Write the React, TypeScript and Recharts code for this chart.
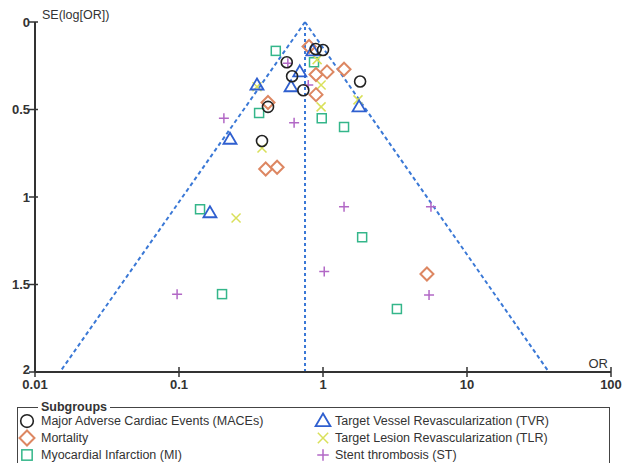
import { ReferenceLine, Scatter, ScatterChart, XAxis, YAxis } from 'recharts'

// odds ratio / standard error of log(OR), one pair per study
const macesOR = [0.89, 1.0, 0.56, 0.61, 0.73, 0.415, 0.377, 1.81]
const macesSE = [0.154, 0.16, 0.23, 0.31, 0.39, 0.485, 0.68, 0.34]

const mortalityOR = [0.8, 0.894, 1.066, 1.4, 0.894, 0.415, 0.4, 0.48, 5.27]
const mortalitySE = [0.14, 0.3, 0.285, 0.27, 0.415, 0.46, 0.84, 0.83, 1.44]

const miOR = [0.47, 0.866, 0.36, 0.98, 1.4, 0.14, 0.199, 1.87, 3.26]
const miSE = [0.165, 0.23, 0.52, 0.55, 0.6, 1.07, 1.555, 1.23, 1.64]

const tvrOR = [0.85, 0.69, 0.6, 0.348, 0.226, 1.78, 0.164]
const tvrSE = [0.165, 0.285, 0.37, 0.36, 0.67, 0.485, 1.09]

const tlrOR = [0.91, 0.97, 0.97, 1.75, 0.348, 0.377, 0.249]
const tlrSE = [0.215, 0.36, 0.485, 0.445, 0.37, 0.72, 1.12]

const stOR = [0.79, 0.57, 0.205, 0.63, 1.4, 5.62, 1.02, 5.45, 0.097]
const stSE = [0.36, 0.235, 0.55, 0.575, 1.055, 1.055, 1.425, 1.56, 1.555]

const xTicks = [0.01, 0.1, 1, 10, 100]
const yTicks = [0, 0.5, 1, 1.5, 2]

// pooled OR and where the 95% funnel limits hit SE = 2
const pooledOR = 0.75
const funnelLeftOR = 0.0149
const funnelRightOR = 37

type Kind = 'circle' | 'diamond' | 'square' | 'triangle' | 'cross' | 'plus'

const colors: Record<Kind, string> = {
  circle: '#222222',
  diamond: '#dd8762',
  square: '#34b68a',
  triangle: '#2f5fcf',
  cross: '#d9e05a',
  plus: '#b268c6',
}

const toPoints = (or: number[], se: number[]) => or.map((v, i) => ({ or: v, se: se[i] }))

const Marker = ({ kind, cx, cy, s = 1 }: { kind: Kind; cx: number; cy: number; s?: number }) => {
  const c = colors[kind]
  switch (kind) {
    case 'circle':
      return <circle cx={cx} cy={cy} r={5.5 * s} fill="none" stroke={c} strokeWidth={1.6} />
    case 'diamond': {
      const d = 6.5 * s
      return (
        <polygon
          points={`${cx},${cy - d} ${cx + d},${cy} ${cx},${cy + d} ${cx - d},${cy}`}
          fill="none"
          stroke={c}
          strokeWidth={2}
        />
      )
    }
    case 'square': {
      const h = 4.5 * s
      return <rect x={cx - h} y={cy - h} width={2 * h} height={2 * h} fill="none" stroke={c} strokeWidth={1.5} />
    }
    case 'triangle': {
      const w = 6.5 * s
      return (
        <polygon
          points={`${cx},${cy - 6.5 * s} ${cx + w},${cy + 4.5 * s} ${cx - w},${cy + 4.5 * s}`}
          fill="none"
          stroke={c}
          strokeWidth={1.8}
        />
      )
    }
    case 'cross': {
      const a = 4.5 * s
      return (
        <path d={`M${cx - a},${cy - a}L${cx + a},${cy + a}M${cx - a},${cy + a}L${cx + a},${cy - a}`} stroke={c} strokeWidth={1.5} />
      )
    }
    default: {
      const a = 5 * s
      return <path d={`M${cx - a},${cy}L${cx + a},${cy}M${cx},${cy - a}L${cx},${cy + a}`} stroke={c} strokeWidth={1.5} />
    }
  }
}

const shapeOf = (kind: Kind) => (p: any) => <Marker kind={kind} cx={p.cx} cy={p.cy} />

const font = '"Liberation Sans", Arial, sans-serif'

const YTick = ({ x, y, payload }: any) => (
  <g>
    <line x1={x - 6} x2={x + 3} y1={y} y2={y} stroke="#333" strokeWidth={1.5} />
    <text
      x={x - 5}
      y={y + (payload.value === 2 ? 2 : 4.5)}
      textAnchor="end"
      fontSize={13}
      fontWeight="bold"
      fill="#333"
      fontFamily={font}
    >
      {payload.value}
    </text>
  </g>
)

const XTick = ({ x, y, payload }: any) => (
  <g>
    <line x1={x} x2={x} y1={y - 5} y2={y + 5} stroke="#333" strokeWidth={1.5} />
    <text x={x} y={y + 17} textAnchor="middle" fontSize={13} fontWeight="bold" fill="#333" fontFamily={font}>
      {payload.value}
    </text>
  </g>
)

const legendItems: Array<{ kind: Kind; label: string; col: number; row: number }> = [
  { kind: 'circle', label: 'Major Adverse Cardiac Events (MACEs)', col: 0, row: 0 },
  { kind: 'diamond', label: 'Mortality', col: 0, row: 1 },
  { kind: 'square', label: 'Myocardial Infarction (MI)', col: 0, row: 2 },
  { kind: 'triangle', label: 'Target Vessel Revascularization (TVR)', col: 1, row: 0 },
  { kind: 'cross', label: 'Target Lesion Revascularization (TLR)', col: 1, row: 1 },
  { kind: 'plus', label: 'Stent thrombosis (ST)', col: 1, row: 2 },
]

const funnelLine = { stroke: '#3a78d6', strokeWidth: 2, strokeDasharray: '4 3' }

export default function App() {
  return (
    <div
      style={{
        position: 'absolute',
        left: 0,
        top: 0,
        width: 633,
        height: 463,
        overflow: 'hidden',
        background: '#fff',
        fontFamily: font,
      }}
    >
      <ScatterChart width={633} height={400} margin={{ top: 22, right: 22, bottom: 6, left: 5 }}>
        <XAxis
          type="number"
          dataKey="or"
          scale="log"
          domain={[0.01, 100]}
          ticks={xTicks}
          interval={0}
          height={22}
          tickSize={0}
          tickMargin={0}
          tickLine={false}
          tick={<XTick />}
          axisLine={{ stroke: '#333', strokeWidth: 2 }}
          label={{
            content: ({ viewBox }: any) => (
              <text x={viewBox.x + viewBox.width - 3} y={viewBox.y - 4} textAnchor="end" fontSize={13} fill="#333" fontFamily={font}>
                OR
              </text>
            ),
          }}
          allowDataOverflow
        />
        <YAxis
          type="number"
          dataKey="se"
          domain={[0, 2]}
          reversed
          ticks={yTicks}
          interval={0}
          width={30}
          tickSize={0}
          tickMargin={0}
          tickLine={false}
          tick={<YTick />}
          axisLine={{ stroke: '#333', strokeWidth: 2 }}
          label={{
            content: ({ viewBox }: any) => (
              <text x={viewBox.x + viewBox.width + 7} y={viewBox.y - 3} fontSize={12.5} fill="#333" fontFamily={font}>
                SE(log[OR])
              </text>
            ),
          }}
        />
        <ReferenceLine
          segment={[
            { x: pooledOR, y: 0 },
            { x: funnelLeftOR, y: 2 },
          ]}
          {...funnelLine}
        />
        <ReferenceLine
          segment={[
            { x: pooledOR, y: 0 },
            { x: funnelRightOR, y: 2 },
          ]}
          {...funnelLine}
        />
        <ReferenceLine x={pooledOR} stroke="#3a78d6" strokeWidth={2} strokeDasharray="3 3" />
        <Scatter data={toPoints(miOR, miSE)} shape={shapeOf('square')} isAnimationActive={false} />
        <Scatter data={toPoints(tlrOR, tlrSE)} shape={shapeOf('cross')} isAnimationActive={false} />
        <Scatter data={toPoints(stOR, stSE)} shape={shapeOf('plus')} isAnimationActive={false} />
        <Scatter data={toPoints(mortalityOR, mortalitySE)} shape={shapeOf('diamond')} isAnimationActive={false} />
        <Scatter data={toPoints(tvrOR, tvrSE)} shape={shapeOf('triangle')} isAnimationActive={false} />
        <Scatter data={toPoints(macesOR, macesSE)} shape={shapeOf('circle')} isAnimationActive={false} />
      </ScatterChart>

      <div
        style={{
          position: 'absolute',
          left: 17,
          top: 407,
          width: 591,
          height: 70,
          border: '1.5px solid #444',
        }}
      />
      <span
        style={{
          position: 'absolute',
          left: 38,
          top: 399,
          padding: '0 3px',
          background: '#fff',
          fontSize: 12.5,
          fontWeight: 'bold',
          lineHeight: '16px',
          color: '#333',
        }}
      >
        Subgroups
      </span>
      {legendItems.map((it) => {
        const mx = it.col === 0 ? 27 : 323
        const tx = it.col === 0 ? 41 : 335
        const cy = 421 + it.row * 17
        return (
          <div key={it.label}>
            <svg style={{ position: 'absolute', left: mx - 9, top: cy - 9 }} width={18} height={18}>
              <Marker kind={it.kind} cx={9} cy={9} s={1.15} />
            </svg>
            <span
              style={{
                position: 'absolute',
                left: tx,
                top: cy - 8,
                fontSize: 12.5,
                lineHeight: '16px',
                color: '#333',
                whiteSpace: 'nowrap',
              }}
            >
              {it.label}
            </span>
          </div>
        )
      })}
    </div>
  )
}
